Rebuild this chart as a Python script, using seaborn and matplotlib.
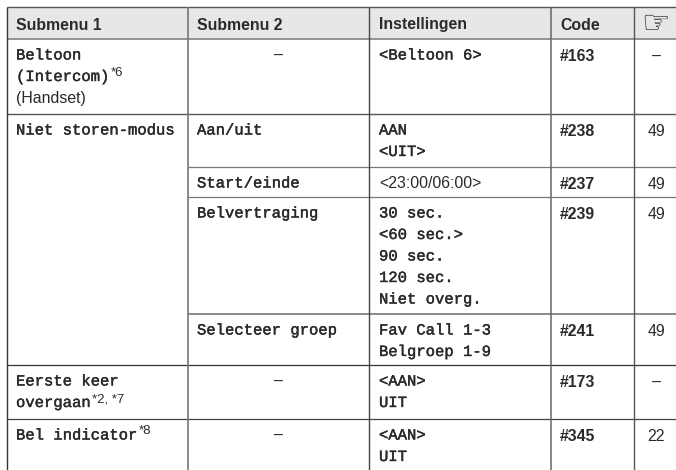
import numpy as np
import matplotlib
matplotlib.use("Agg")
import matplotlib.pyplot as plt
import matplotlib.patheffects as pe
import seaborn as sns

headers = ["Submenu 1", "Submenu 2", "Instellingen", "Code", "\u261e"]
submenu_1 = [["Beltoon", "(Intercom)", "(Handset)"], ["Niet storen-modus"], [], [], [],
             ["Eerste keer", "overgaan"], ["Bel indicator"]]
submenu_2 = [["\u2013"], ["Aan/uit"], ["Start/einde"], ["Belvertraging"], ["Selecteer groep"],
             ["\u2013"], ["\u2013"]]
instellingen = [["<Beltoon 6>"], ["AAN", "<UIT>"], ["<23:00/06:00>"],
                ["30 sec.", "<60 sec.>", "90 sec.", "120 sec.", "Niet overg."],
                ["Fav Call 1-3", "Belgroep 1-9"], ["<AAN>", "UIT"], ["<AAN>", "UIT"]]
codes = ["#163", "#238", "#237", "#239", "#241", "#173", "#345"]
pages = ["\u2013", "49", "49", "49", "49", "\u2013", "22"]
footnotes = {"(Intercom)": "*6", "overgaan": "*2, *7", "Bel indicator": "*8"}
sans_cells = ["(Handset)", "<23:00/06:00>"]

W, H = 676, 470
col_lines = [6.5, 188, 369, 551, 634]
row_lines = [7, 39, 114, 167, 197, 314, 365, 419]
# the "Niet storen-modus" cell spans rows, so these lines start at the second column
spanned = [167, 197, 314]
MONO = "Liberation Mono"
SANS = "Liberation Sans"
INK = "#2a2a2a"

sns.set_theme(style="white")
fig = plt.figure(figsize=(W / 100, H / 100), dpi=100)
ax = fig.add_axes([0, 0, 1, 1], zorder=2)
ax.set_xlim(0, W)
ax.set_ylim(H, 0)
ax.axis("off")
ax.patch.set_alpha(0)

# header band
head = fig.add_axes([col_lines[0] / W, 1 - row_lines[1] / H, 1 - col_lines[0] / W,
                     (row_lines[1] - row_lines[0]) / H], zorder=1)
sns.heatmap(np.zeros((1, 1)), ax=head, cbar=False, cmap=["#e6e7e8"],
            xticklabels=False, yticklabels=False)


def put(x, y, s, family=SANS, weight="normal", size=11.4, ha="left", color=INK):
    return ax.text(x, y, s, family=family, weight=weight, fontsize=size, ha=ha, va="baseline", color=color)


def put_lines(x, top, lines):
    for i, line in enumerate(lines):
        y = top + 20.5 + i * 21.5
        if line in sans_cells:
            put(x, y, line)
        else:
            t = put(x, y, line, family=MONO, size=11.2)
            t.set_path_effects([pe.withStroke(linewidth=0.3, foreground=INK)])
        if line in footnotes:
            put(x + len(line) * 9.33 + 1, y - 5, footnotes[line], size=9.5)


# grid lines
for y, c, lw in zip(row_lines, ["#555555", "#777777", "#555555", "#777777", "#777777",
                                "#777777", "#333333", "#444444"],
                    [1, 1.1, 1, 0.9, 0.9, 1.2, 0.9, 0.9]):
    x0 = col_lines[1] if y in spanned else col_lines[0]
    ax.plot([x0, W], [y, y], color=c, lw=lw, solid_capstyle="butt")
for x, c, lw in zip(col_lines, ["#333333", "#777777", "#444444", "#666666", "#555555"],
                    [1, 1.2, 1, 1.1, 1]):
    ax.plot([x, x], [row_lines[0], H], color=c, lw=lw, solid_capstyle="butt")

# header row
put(16, 29.5, headers[0], weight="bold")
put(197, 29.5, headers[1], weight="bold")
put(379, 29.5, headers[2], weight="bold")
put(560, 29.5, headers[3], weight="bold")
ax.text(656, 32, headers[4], family="DejaVu Sans", fontsize=23, ha="center", va="baseline", color=INK)

# body rows
tops = row_lines[1:]
for i, top in enumerate(tops):
    put_lines(16, top, submenu_1[i])
    if submenu_2[i][0] == "\u2013":
        put(278, top + 20.5, submenu_2[i][0], ha="center")
    else:
        put_lines(197, top, submenu_2[i])
    put_lines(379, top, instellingen[i])
    put(560, top + 22, codes[i], weight="bold")
    put(656, top + 22, pages[i], ha="center")

fig.savefig("out.png", dpi=100)
